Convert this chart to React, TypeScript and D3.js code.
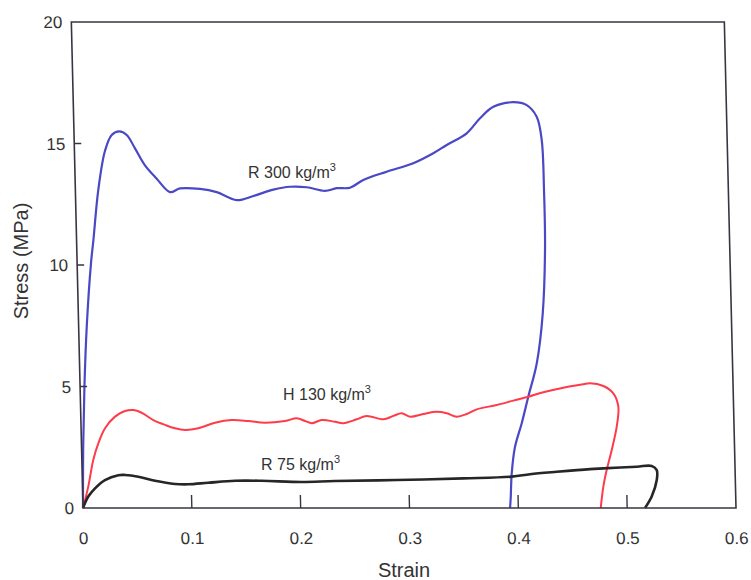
import React from 'react';
import * as d3 from 'd3';

const xTickValues = [0, 0.1, 0.2, 0.3, 0.4, 0.5, 0.6];
const xTickLabels = ['0', '0.1', '0.2', '0.3', '0.4', '0.5', '0.6'];
const yTickValues = [0, 5, 10, 15, 20];
const yTickLabels = ['0', '5', '10', '15', '20'];

const r300Strain = [0, 0.0015, 0.004, 0.0075, 0.0128, 0.0154, 0.0211, 0.0281, 0.0346, 0.0417, 0.0484, 0.0557, 0.0645, 0.075, 0.0869, 0.0962, 0.1145, 0.1298, 0.148, 0.1634, 0.1819, 0.1973, 0.2126, 0.2293, 0.2402, 0.2524, 0.2648, 0.2865, 0.3111, 0.3297, 0.3422, 0.3608, 0.3734, 0.3859, 0.4043, 0.4166, 0.4255, 0.4296, 0.4306, 0.4303, 0.4267, 0.4201, 0.4116, 0.405, 0.3983, 0.3947, 0.3932, 0.3924];
const r300Stress = [0, 2.5, 5.0, 7.5, 10.1, 11.0, 13.1, 14.7, 15.35, 15.5, 15.35, 14.8, 14.1, 13.55, 13.0, 13.15, 13.13, 13.0, 12.67, 12.84, 13.1, 13.22, 13.2, 13.05, 13.16, 13.18, 13.5, 13.84, 14.19, 14.6, 14.94, 15.42, 16.04, 16.51, 16.7, 16.58, 16.1, 15.14, 13.09, 10.75, 8.0, 5.95, 4.58, 3.49, 2.52, 1.43, 0.4, 0];

const h130Strain = [0, 0.0053, 0.0105, 0.0155, 0.022, 0.0314, 0.0407, 0.0484, 0.056, 0.0666, 0.0772, 0.0863, 0.0955, 0.1077, 0.1232, 0.1386, 0.1538, 0.169, 0.1875, 0.1984, 0.206, 0.212, 0.2213, 0.2335, 0.241, 0.2534, 0.2627, 0.2779, 0.2872, 0.295, 0.3025, 0.3148, 0.3271, 0.3363, 0.3454, 0.3547, 0.364, 0.3824, 0.3978, 0.4116, 0.4255, 0.444, 0.4625, 0.4686, 0.4808, 0.4898, 0.4941, 0.4922, 0.4871, 0.482, 0.4786, 0.4757];
const h130Stress = [0, 0.88, 1.98, 2.66, 3.28, 3.76, 3.99, 4.03, 3.92, 3.62, 3.42, 3.28, 3.21, 3.28, 3.51, 3.62, 3.58, 3.51, 3.58, 3.69, 3.58, 3.49, 3.62, 3.55, 3.49, 3.65, 3.79, 3.65, 3.79, 3.9, 3.76, 3.87, 3.96, 3.9, 3.76, 3.87, 4.06, 4.24, 4.42, 4.58, 4.76, 4.95, 5.09, 5.13, 5.02, 4.72, 4.17, 3.35, 2.39, 1.56, 0.88, 0];

const r75Strain = [0, 0.0051, 0.0115, 0.0208, 0.0332, 0.0393, 0.0515, 0.0668, 0.0851, 0.0973, 0.1157, 0.1403, 0.1648, 0.2015, 0.232, 0.2889, 0.3501, 0.3946, 0.4115, 0.4361, 0.4667, 0.479, 0.5097, 0.5235, 0.528, 0.5278, 0.5228, 0.5164];
const r75Stress = [0, 0.47, 0.81, 1.15, 1.35, 1.36, 1.29, 1.12, 0.99, 0.975, 1.04, 1.12, 1.12, 1.07, 1.11, 1.15, 1.22, 1.29, 1.39, 1.49, 1.6, 1.63, 1.7, 1.73, 1.56, 1.15, 0.47, 0];

const seriesNames = ['R 300 kg/m', 'H 130 kg/m', 'R 75 kg/m'];
const seriesColors = ['#4a48c4', '#ff3b4a', '#262626'];

const W = 751;
const H = 580;
const X0 = 83;
const X1 = 736;
const Y0 = 508;
const Y1 = 22;
const K = 0.024;

export default function App() {
  const x = d3.scaleLinear().domain([0, 0.6]).range([X0, X1]);
  const y = d3.scaleLinear().domain([0, 20]).range([Y0, Y1]);
  const line = d3
    .line<[number, number]>()
    .x((d) => x(d[0]))
    .y((d) => y(d[1]))
    .curve(d3.curveCatmullRom.alpha(0.5));

  const series = [
    { s: r300Strain, t: r300Stress, w: 2.2 },
    { s: h130Strain, t: h130Stress, w: 2 },
    { s: r75Strain, t: r75Stress, w: 2.6 },
  ].map((d, i) => ({
    path: line(d.s.map((v, j) => [v, d.t[j]] as [number, number])) || '',
    color: seriesColors[i],
    width: d.w,
  }));

  const labelPos = [
    { x: 248, y: 178 },
    { x: 283, y: 400 },
    { x: 261, y: 470 },
  ];

  const font = 'Liberation Sans, Arial, sans-serif';

  return (
    <svg
      width={W}
      height={H}
      style={{ position: 'absolute', left: 0, top: 0, background: '#fff' }}
      fontFamily={font}
    >
      <rect x={0} y={0} width={W} height={H} fill="#fff" />
      <g transform={`matrix(1,0,${K},1,${-K * Y0},0)`}>
        {series.map((d, i) => (
          <path key={i} d={d.path} fill="none" stroke={d.color} strokeWidth={d.width} strokeLinejoin="round" />
        ))}
        <rect x={X0} y={Y1} width={X1 - X0} height={Y0 - Y1} fill="none" stroke="#3a3440" strokeWidth={1.6} />
        {xTickValues.map((v, i) => (
          <g key={'x' + i}>
            {i > 0 && i < xTickValues.length - 1 && (
              <line x1={x(v)} x2={x(v)} y1={Y0} y2={Y0 - 13} stroke="#3a3440" strokeWidth={1.4} />
            )}
            <text x={x(v)} y={544} textAnchor="middle" fontSize={17} fill="#333">
              {xTickLabels[i]}
            </text>
          </g>
        ))}
        {yTickValues.map((v, i) => (
          <g key={'y' + i}>
            {i > 0 && i < yTickValues.length - 1 && (
              <line x1={X0} x2={X0 + 7} y1={y(v)} y2={y(v)} stroke="#3a3440" strokeWidth={1.4} />
            )}
            <text x={X0 - 9} y={y(v)} dy="0.36em" textAnchor="end" fontSize={17} fill="#333">
              {yTickLabels[i]}
            </text>
          </g>
        ))}
      </g>
      {seriesNames.map((n, i) => (
        <text key={'l' + i} x={labelPos[i].x} y={labelPos[i].y} fontSize={16} fill="#333">
          {n}
          <tspan dy={-7} fontSize={11}>3</tspan>
        </text>
      ))}
      <text x={404} y={577} textAnchor="middle" fontSize={20} fill="#333">
        Strain
      </text>
      <text transform="translate(28,261) rotate(-90)" textAnchor="middle" fontSize={20} fill="#333">
        Stress (MPa)
      </text>
    </svg>
  );
}
